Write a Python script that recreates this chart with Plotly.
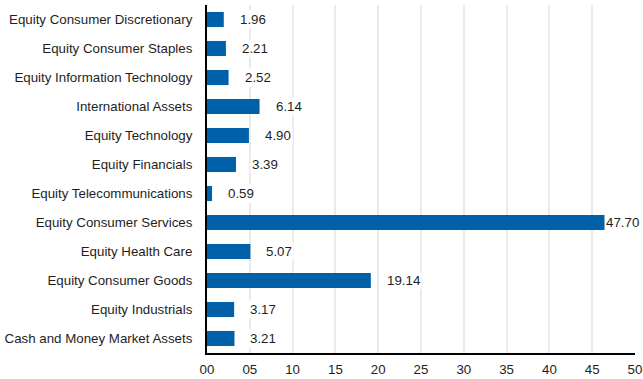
import plotly.graph_objects as go

categories = [
    "Equity Consumer Discretionary",
    "Equity Consumer Staples",
    "Equity Information Technology",
    "International Assets",
    "Equity Technology",
    "Equity Financials",
    "Equity Telecommunications",
    "Equity Consumer Services",
    "Equity Health Care",
    "Equity Consumer Goods",
    "Equity Industrials",
    "Cash and Money Market Assets",
]
values = [1.96, 2.21, 2.52, 6.14, 4.90, 3.39, 0.59, 47.70, 5.07, 19.14, 3.17, 3.21]
tick_vals = [0, 5, 10, 15, 20, 25, 30, 35, 40, 45, 50]
tick_text = ["00", "05", "10", "15", "20", "25", "30", "35", "40", "45", "50"]

BAR = "#0061a8"
FONT = dict(family="Liberation Sans, Arial, sans-serif", size=13.3, color="#1e1e1e")
X_MAX = 50

fig = go.Figure(
    go.Bar(
        x=values,
        y=categories,
        orientation="h",
        marker=dict(color=BAR, line=dict(width=0)),
        hoverinfo="skip",
    )
)

# value labels on white boxes, right of each bar; a label that would run
# past the plot edge is pinned to the right edge instead
for cat, v in zip(categories, values):
    label = dict(
        y=cat, yref="y", text=f"{v:.2f}", showarrow=False,
        yanchor="middle", bgcolor="white", borderpad=1, font=FONT,
    )
    if v > X_MAX - 6:
        fig.add_annotation(x=1, xref="paper", xanchor="right", xshift=6, **label)
    else:
        fig.add_annotation(x=v, xref="x", xanchor="left", xshift=14, **label)

fig.update_layout(
    width=643, height=379,
    margin=dict(l=205, r=8, t=5, b=26),
    paper_bgcolor="white", plot_bgcolor="white",
    bargap=0.48,
    showlegend=False,
    font=FONT,
    xaxis=dict(
        range=[0, X_MAX], tickvals=tick_vals, ticktext=tick_text,
        showgrid=True, gridcolor="#eaeaea", gridwidth=2,
        showline=True, linecolor="black", linewidth=2,
        zeroline=False, ticks="", ticklabelstandoff=3, tickfont=FONT,
        automargin=False,
    ),
    yaxis=dict(
        categoryorder="array", categoryarray=categories[::-1],
        showgrid=False, showline=True, linecolor="black", linewidth=2,
        ticks="", ticklabelstandoff=10, tickfont=FONT,
    ),
)

fig.write_html("out.html")
